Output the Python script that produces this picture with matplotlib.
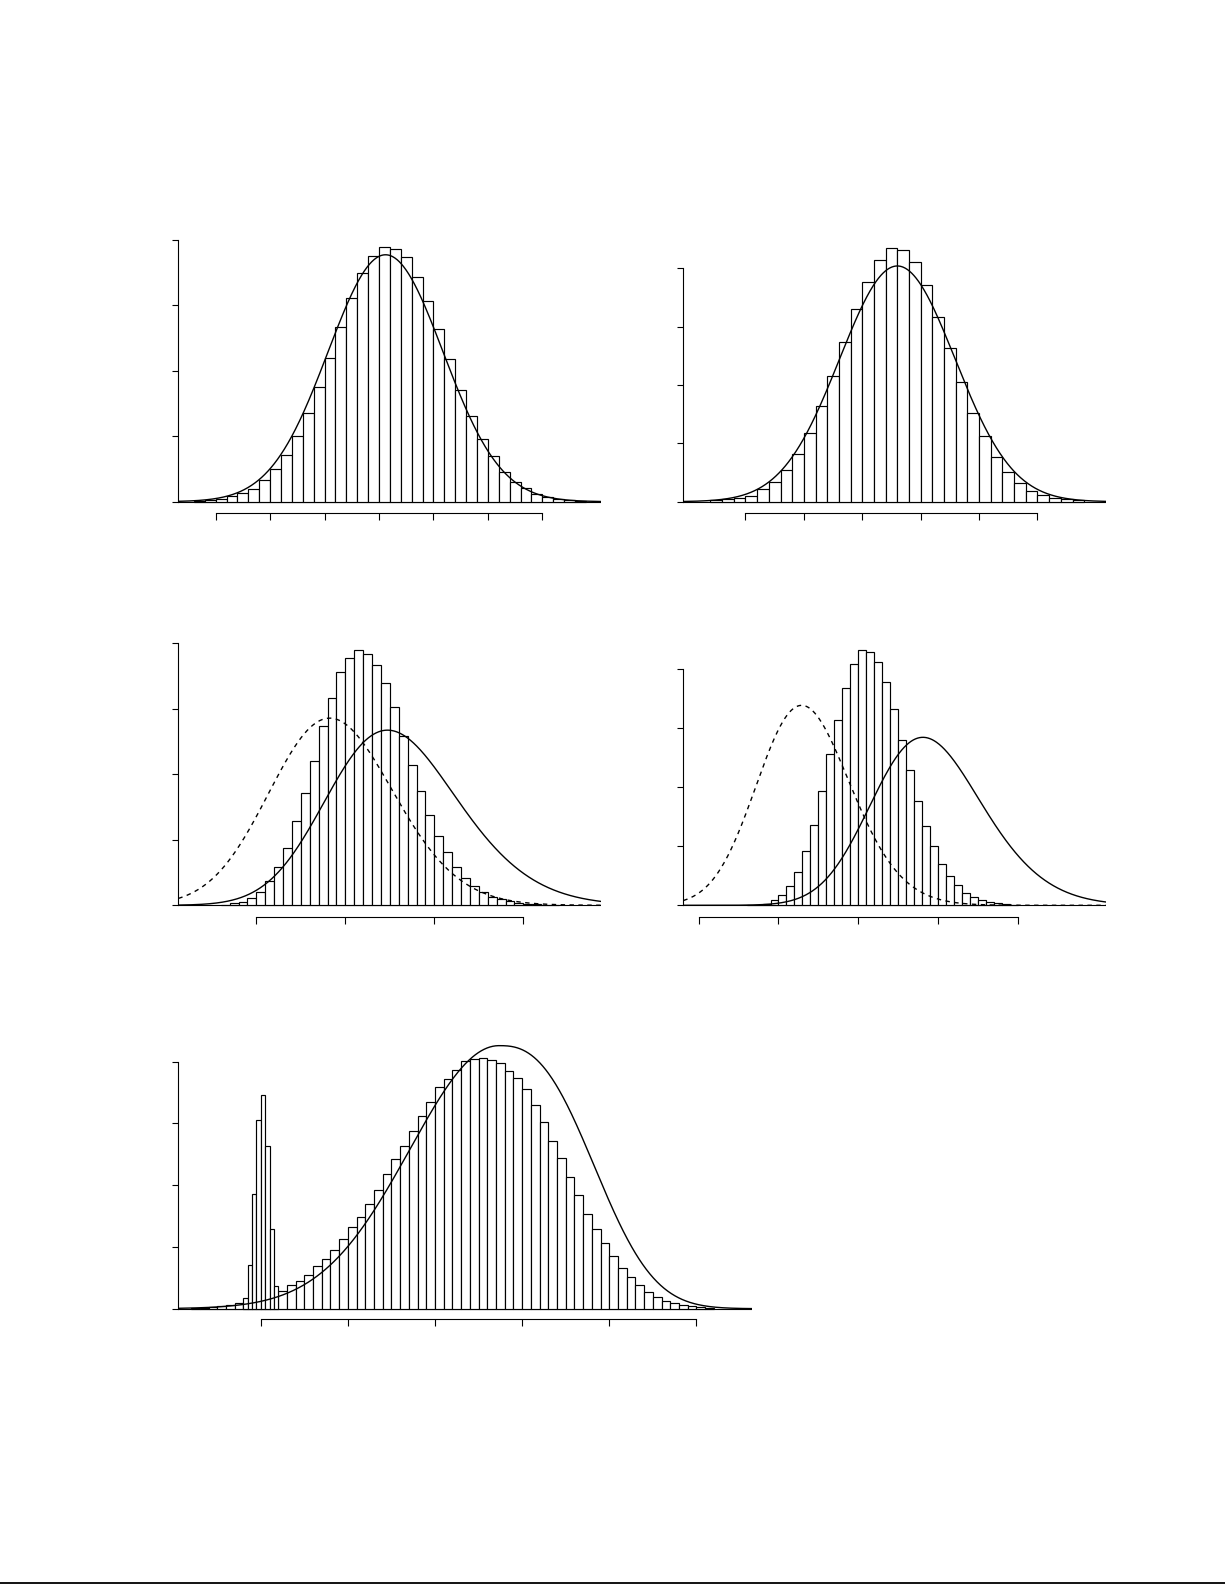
import math
import numpy as np
import matplotlib
matplotlib.use("Agg")
import matplotlib.pyplot as plt
from matplotlib.lines import Line2D

# ---------------- data ----------------
# Panel 1 : histogram (bin width 0.2, first edge -3.4) + normal curve
p1_start, p1_bw = -3.4, 0.2
p1_heights = [0.001, 0.002, 0.0036, 0.008, 0.0127, 0.020, 0.0326, 0.0494, 0.0708, 0.0999,
              0.135, 0.1748, 0.2201, 0.2665, 0.3109, 0.349, 0.375, 0.3888, 0.3868, 0.3735,
              0.343, 0.3063, 0.2635, 0.2176, 0.1712, 0.1305, 0.0953, 0.0693, 0.0459, 0.0306,
              0.0204, 0.0122, 0.0076, 0.0041, 0.002, 0.001]
p1_xticks = [-3, -2, -1, 0, 1, 2, 3]
p1_curve = dict(kind="normal", mean=0.12, sd=1.057)

# Panel 2
p2_start, p2_bw = -2.6, 0.2
p2_heights = [0.0023, 0.004, 0.0057, 0.0103, 0.0211, 0.0331, 0.0543, 0.0811, 0.1177, 0.1639,
              0.2153, 0.273, 0.331, 0.377, 0.415, 0.434, 0.431, 0.411, 0.372, 0.317,
              0.263, 0.2045, 0.1525, 0.112, 0.076, 0.0503, 0.0314, 0.0177, 0.0109, 0.0063,
              0.004, 0.0023]
p2_xticks = [-2, -1, 0, 1, 2, 3]
p2_curve = dict(kind="normal", mean=0.6, sd=0.9875)

# Panel 3 : histogram + solid and dashed skewed curves
p3_start, p3_bw = -2.8, 0.2
p3_heights = [0.001, 0.0031, 0.0056, 0.0107, 0.0199, 0.0366, 0.058, 0.087, 0.1283, 0.171,
              0.2199, 0.2733, 0.3161, 0.3558, 0.3772, 0.3894, 0.3833, 0.367, 0.339, 0.3026,
              0.2586, 0.2138, 0.1741, 0.1374, 0.1054, 0.0809, 0.058, 0.0412, 0.029, 0.0199,
              0.0132, 0.0092, 0.0061, 0.0031, 0.0025, 0.0015, 0.001, 0.0005]
p3_xticks = [-2, 0, 2, 4]
p3_dashed = dict(kind="skew", loc=-1.212, scale=1.704, shape=1.0)
p3_solid = dict(kind="skew", loc=-0.158, scale=2.04, shape=1.5)

# Panel 4
p4_start, p4_bw = -2.8, 0.2
p4_heights = [0.0006, 0.0011, 0.0028, 0.0085, 0.017, 0.0322, 0.0559, 0.0927, 0.1356, 0.1932,
              0.256, 0.3141, 0.3678, 0.409, 0.4322, 0.43, 0.4119, 0.378, 0.3322, 0.2797,
              0.2288, 0.1763, 0.1339, 0.1, 0.0695, 0.0492, 0.0339, 0.0215, 0.0141, 0.009,
              0.0051, 0.0034, 0.0017, 0.0011]
p4_xticks = [-4, -2, 0, 2, 4]
p4_dashed = dict(kind="skew", loc=-2.22, scale=1.509, shape=1.2)
p4_solid = dict(kind="skew", loc=0.580, scale=1.916, shape=1.5)

# Panel 5 : broad histogram (bin 0.1) + narrow spike histogram (bin 0.05) + curve
p5_start, p5_bw = -2.8, 0.1
p5_heights = [0.001, 0.0016, 0.0032, 0.0049, 0.0065, 0.0086, 0.011, 0.013, 0.016, 0.021,
              0.0286, 0.0383, 0.0453, 0.054, 0.0691, 0.0799, 0.095, 0.1123, 0.1317, 0.1479,
              0.1695, 0.1916, 0.2175, 0.2418, 0.264, 0.2872, 0.3115, 0.3347, 0.3584, 0.3714,
              0.3865, 0.4005, 0.4038, 0.4054, 0.4022, 0.3973, 0.3843, 0.373, 0.3552, 0.3293,
              0.3018, 0.271, 0.2435, 0.2127, 0.1835, 0.1528, 0.1285, 0.1058, 0.0848, 0.0653,
              0.0507, 0.0378, 0.0265, 0.0194, 0.013, 0.0086, 0.0054, 0.0038, 0.0022, 0.001]
p5_spike_start, p5_spike_bw = -2.2, 0.05
p5_spike_heights = [0.0167, 0.0702, 0.1857, 0.3055, 0.3455, 0.2629, 0.1285, 0.0367]
p5_xticks = [-2, -1, 0, 1, 2, 3]
p5_curve = dict(kind="split", mode=0.734, peak=0.426, sl=1.445, pl=2.0, sr=1.321, pr=2.6)

y_ticks = [0, 0.1, 0.2, 0.3, 0.4]

# ---------------- curve functions ----------------
_erf = np.vectorize(math.erf)


def density(x, c):
    if c["kind"] == "normal":
        z = (x - c["mean"]) / c["sd"]
        return np.exp(-0.5 * z * z) / (c["sd"] * math.sqrt(2 * math.pi))
    if c["kind"] == "skew":
        z = (x - c["loc"]) / c["scale"]
        phi = np.exp(-0.5 * z * z) / math.sqrt(2 * math.pi)
        Phi = 0.5 * (1 + _erf(c["shape"] * z / math.sqrt(2)))
        return 2.0 / c["scale"] * phi * Phi
    if c["kind"] == "split":
        d = x - c["mode"]
        left = np.exp(-np.abs(d / c["sl"]) ** c["pl"])
        right = np.exp(-np.abs(d / c["sr"]) ** c["pr"])
        return c["peak"] * np.where(d < 0, left, right)


# ---------------- layout (pixels) ----------------
W, H = 1225, 1585
DPI = 100
fig = plt.figure(figsize=(W / DPI, H / DPI), dpi=DPI)
PT = 72.0 / DPI

layout = {
    1: dict(xl=178.0, xr=600.7, base=501.7, ppy=654.25, ul=-3.693, ur=4.073, xaxis=512.7),
    2: dict(xl=683.3, xr=1105.7, base=501.7, ppy=583.5, ul=-3.065, ur=4.168, xaxis=512.7),
    3: dict(xl=178.3, xr=600.7, base=905.3, ppy=655.0, ul=-3.753, ur=5.739, xaxis=916.7),
    4: dict(xl=683.3, xr=1105.7, base=905.3, ppy=590.0, ul=-4.385, ur=6.199, xaxis=916.7),
    5: dict(xl=178.3, xr=751.7, base=1308.7, ppy=617.5, ul=-2.947, ur=3.635, xaxis=1319.3),
}

LW_AX = 0.8
LW_BAR = 0.85
LW_CURVE = 1.0
PAD = 4.0
TOP = 300.0


def make_axes(L, xticks):
    bottom_px = L["base"] + PAD
    top_px = L["base"] - TOP
    ax = fig.add_axes([L["xl"] / W, 1 - bottom_px / H,
                       (L["xr"] - L["xl"]) / W, (bottom_px - top_px) / H])
    ax.set_xlim(L["ul"], L["ur"])
    ax.set_ylim(-PAD / L["ppy"], TOP / L["ppy"])
    ax.patch.set_visible(False)
    for s in ("top", "right"):
        ax.spines[s].set_visible(False)
    ax.spines["left"].set_bounds(0, 0.4)
    ax.spines["left"].set_linewidth(LW_AX)
    ax.spines["bottom"].set_position(("outward", (L["xaxis"] - bottom_px) * PT))
    ax.spines["bottom"].set_bounds(xticks[0], xticks[-1])
    ax.spines["bottom"].set_linewidth(LW_AX)
    ax.set_xticks(xticks)
    ax.set_yticks(y_ticks)
    ax.tick_params(direction="out", length=6.5 * PT, width=LW_AX,
                   labelbottom=False, labelleft=False)
    ax.axhline(0, color="black", lw=LW_AX, zorder=1)
    return ax


def draw_hist(ax, start, bw, heights, z=2):
    edges = start + bw * np.arange(len(heights))
    ax.bar(edges, heights, width=bw, align="edge", facecolor="white",
           edgecolor="black", linewidth=LW_BAR, zorder=z)


def draw_curve(ax, L, c, dashed=False):
    x = np.linspace(L["ul"], L["ur"], 800)
    y = density(x, c)
    if dashed:
        ax.plot(x, y, color="black", lw=LW_CURVE, linestyle=(0, (3.2, 3.2)), zorder=5)
    else:
        ax.plot(x, y, color="black", lw=LW_CURVE, zorder=5)


ax1 = make_axes(layout[1], p1_xticks)
draw_hist(ax1, p1_start, p1_bw, p1_heights)
draw_curve(ax1, layout[1], p1_curve)

ax2 = make_axes(layout[2], p2_xticks)
draw_hist(ax2, p2_start, p2_bw, p2_heights)
draw_curve(ax2, layout[2], p2_curve)

ax3 = make_axes(layout[3], p3_xticks)
draw_hist(ax3, p3_start, p3_bw, p3_heights)
draw_curve(ax3, layout[3], p3_dashed, dashed=True)
draw_curve(ax3, layout[3], p3_solid)

ax4 = make_axes(layout[4], p4_xticks)
draw_hist(ax4, p4_start, p4_bw, p4_heights)
draw_curve(ax4, layout[4], p4_dashed, dashed=True)
draw_curve(ax4, layout[4], p4_solid)

ax5 = make_axes(layout[5], p5_xticks)
draw_hist(ax5, p5_start, p5_bw, p5_heights, z=2)
draw_hist(ax5, p5_spike_start, p5_spike_bw, p5_spike_heights, z=3)
draw_curve(ax5, layout[5], p5_curve)

# page rule at the bottom
yline = 1 - 1583.3 / H
fig.add_artist(Line2D([0, 1], [yline, yline], transform=fig.transFigure,
                      color="black", lw=1.3))

fig.savefig("out.png", dpi=DPI, facecolor="white")
